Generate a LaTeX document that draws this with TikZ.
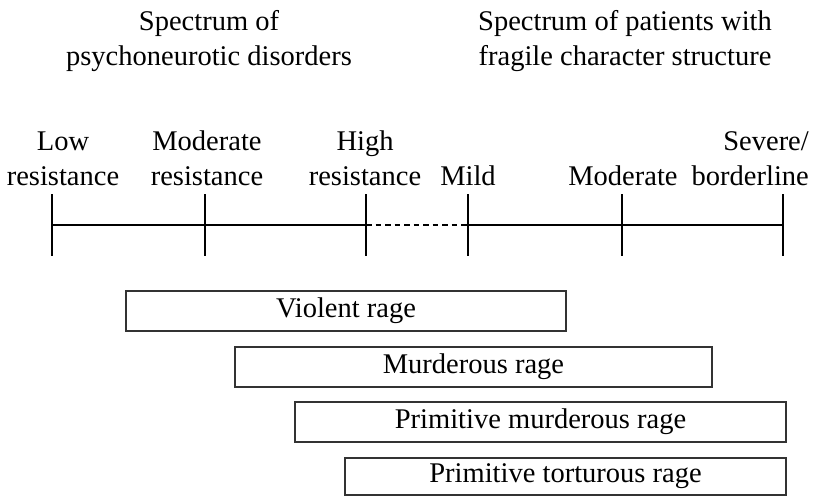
\documentclass[tikz,border=0pt]{standalone}
\usepackage{fontspec}
\setmainfont{Liberation Serif}

\begin{document}
\begin{tikzpicture}[x=1pt,y=-1pt,
  txt/.style={inner sep=0pt, align=center, font=\fontsize{28.5}{35}\selectfont},
  ragebox/.style={draw=black!80, line width=1.2pt, minimum height=40pt, inner sep=0pt, font=\fontsize{28.5}{35}\selectfont},
  tick/.style={line width=2.3pt}]
\useasboundingbox (0,0) rectangle (827,496);

% spectra
\node[txt, anchor=base](neurotic) at (209,65){Spectrum of\\psychoneurotic disorders};
\node[txt, anchor=base](fragile) at (625,65){Spectrum of patients with\\fragile character structure};

% points on the scale
\coordinate (p1) at (52,225);
\coordinate (p2) at (205,225);
\coordinate (p3) at (366,225);
\coordinate (p4) at (468,225);
\coordinate (p5) at (622,225);
\coordinate (p6) at (783,225);

\node[txt, anchor=base](lowres) at (63,185){Low\\resistance};
\node[txt, anchor=base](modres) at (207,185){Moderate\\resistance};
\node[txt, anchor=base](highres) at (365,185){High\\resistance};
\node[txt, anchor=base](mild) at (468,185){Mild};
\node[txt, anchor=base](moderate) at (623,185){Moderate};
\node[txt, align=right, anchor=base east](severe) at (809,185){Severe/\\borderline};

\draw[tick] (p1) -- (p3);
\draw[tick, dash pattern=on 5.5pt off 4pt] (p3) -- (p4);
\draw[tick] (p4) -- (p6);
\foreach \p in {p1,p2,p3,p4,p5,p6}
  \draw[tick] (\p) ++(0,-31) -- ++(0,62);

% rage
\node[ragebox, minimum width=440pt](violent) at (346,311){Violent rage};
\node[ragebox, minimum width=477pt](murderous) at (473.5,367){Murderous rage};
\node[ragebox, minimum width=491pt](primmurder) at (540.5,422){Primitive murderous rage};
\node[ragebox, minimum width=441pt, minimum height=37pt](torture) at (565.5,476.5){Primitive torturous rage};
\end{tikzpicture}
\end{document}
